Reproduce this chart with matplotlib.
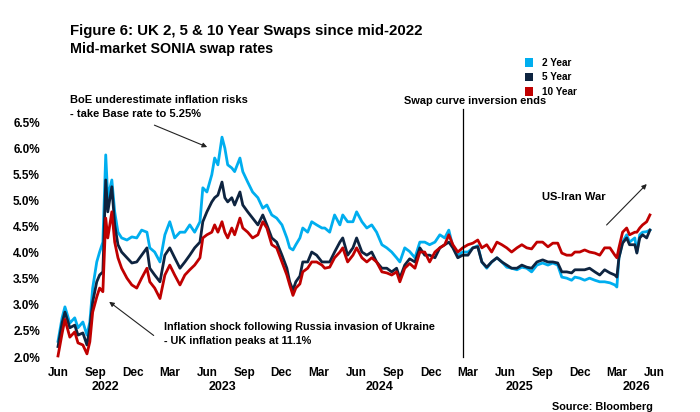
import numpy as np
import pandas as pd
import matplotlib
matplotlib.use("Agg")
import matplotlib.pyplot as plt
from matplotlib.patches import Patch
from matplotlib.ticker import FuncFormatter

plt.rcParams['font.family'] = ['Liberation Sans', 'DejaVu Sans']
plt.rcParams['font.weight'] = 'bold'

# sample dates (roughly every 1-2 weeks)
dates = [
    "2022-06-01", "2022-06-11", "2022-06-18", "2022-06-30", "2022-07-12", "2022-07-20", "2022-08-01", "2022-08-11", "2022-08-18", "2022-08-25",
    "2022-09-04", "2022-09-11", "2022-09-19", "2022-09-26", "2022-10-01", "2022-10-11", "2022-10-18", "2022-10-26", "2022-11-04", "2022-11-17",
    "2022-11-29", "2022-12-11", "2022-12-23", "2023-01-05", "2023-01-12", "2023-01-24", "2023-02-06", "2023-02-18", "2023-03-02", "2023-03-14",
    "2023-03-27", "2023-04-08", "2023-04-20", "2023-05-02", "2023-05-15", "2023-05-22", "2023-06-01", "2023-06-13", "2023-06-20", "2023-06-28",
    "2023-07-08", "2023-07-15", "2023-07-22", "2023-08-01", "2023-08-08", "2023-08-21", "2023-08-28", "2023-09-09", "2023-09-21", "2023-10-04",
    "2023-10-16", "2023-10-26", "2023-11-07", "2023-11-19", "2023-12-02", "2023-12-14", "2023-12-21", "2023-12-29", "2024-01-05", "2024-01-15",
    "2024-01-22", "2024-02-03", "2024-02-13", "2024-02-25", "2024-03-09", "2024-03-16", "2024-03-28", "2024-04-09", "2024-04-22", "2024-04-29",
    "2024-05-11", "2024-05-24", "2024-06-02", "2024-06-15", "2024-06-27", "2024-07-09", "2024-07-21", "2024-08-03", "2024-08-15", "2024-08-27",
    "2024-09-08", "2024-09-16", "2024-09-28", "2024-10-10", "2024-10-23", "2024-11-04", "2024-11-16", "2024-11-28", "2024-12-11", "2024-12-23",
    "2025-01-04", "2025-01-14", "2025-01-24", "2025-02-05", "2025-02-17", "2025-03-02", "2025-03-14", "2025-03-26", "2025-04-05", "2025-04-17",
    "2025-04-29", "2025-05-12", "2025-05-24", "2025-06-05", "2025-06-17", "2025-06-30", "2025-07-12", "2025-07-24", "2025-08-05", "2025-08-18",
    "2025-09-01", "2025-09-14", "2025-09-26", "2025-10-08", "2025-10-18", "2025-10-30", "2025-11-11", "2025-11-19", "2025-12-01", "2025-12-13",
    "2025-12-25", "2026-01-07", "2026-01-19", "2026-01-31", "2026-02-13", "2026-02-25", "2026-03-02", "2026-03-07", "2026-03-16", "2026-03-26",
    "2026-04-02", "2026-04-15", "2026-04-20", "2026-04-27", "2026-05-04", "2026-05-14", "2026-05-22",
]

swap_2y = [
    2.30, 2.75, 2.96, 2.65, 2.75, 2.56, 2.67, 2.42, 2.67, 3.32,
    3.82, 4.01, 4.20, 5.87, 5.05, 5.39, 4.78, 4.39, 4.28, 4.24,
    4.30, 4.28, 4.43, 4.39, 4.09, 4.01, 3.82, 4.34, 4.59, 4.28,
    4.39, 4.39, 4.53, 4.39, 4.59, 5.24, 5.16, 5.49, 5.81, 5.68,
    6.21, 6.00, 5.68, 5.62, 5.55, 5.81, 5.55, 5.35, 5.16, 5.05,
    4.85, 4.91, 4.72, 4.66, 4.53, 4.28, 4.09, 4.05, 4.15, 4.28,
    4.47, 4.39, 4.59, 4.53, 4.47, 4.47, 4.39, 4.72, 4.53, 4.72,
    4.59, 4.59, 4.78, 4.59, 4.47, 4.53, 4.39, 4.15, 4.09, 4.01,
    3.90, 3.82, 4.09, 4.02, 3.90, 4.20, 4.20, 4.15, 4.20, 4.34,
    4.28, 4.43, 4.11, 3.95, 4.01, 4.01, 4.09, 4.13, 3.82, 3.70,
    3.82, 3.90, 3.82, 3.72, 3.70, 3.67, 3.72, 3.70, 3.63, 3.76,
    3.80, 3.76, 3.80, 3.76, 3.53, 3.51, 3.47, 3.53, 3.51, 3.47,
    3.51, 3.47, 3.44, 3.44, 3.42, 3.38, 3.34, 3.90, 4.20, 4.34,
    4.20, 4.28, 4.01, 4.34, 4.39, 4.40, 4.43,
]

swap_5y = [
    2.20, 2.65, 2.86, 2.56, 2.61, 2.42, 2.46, 2.23, 2.56, 3.05,
    3.44, 3.57, 3.63, 5.39, 4.78, 5.26, 4.53, 4.15, 4.01, 3.90,
    3.80, 3.82, 3.95, 4.09, 3.70, 3.57, 3.44, 3.95, 4.09, 3.90,
    3.70, 3.82, 3.95, 4.09, 4.20, 4.59, 4.78, 4.97, 5.05, 5.10,
    5.35, 5.05, 4.97, 5.05, 4.91, 5.16, 4.91, 4.78, 4.66, 4.53,
    4.72, 4.53, 4.28, 4.20, 3.95, 3.70, 3.44, 3.28, 3.44, 3.55,
    3.82, 3.82, 4.01, 3.95, 3.82, 3.82, 3.82, 4.01, 4.20, 4.28,
    3.95, 4.09, 4.28, 4.01, 3.95, 4.01, 3.82, 3.70, 3.70, 3.63,
    3.70, 3.51, 3.76, 3.88, 3.82, 4.09, 3.95, 3.95, 3.90, 4.09,
    4.15, 4.20, 4.09, 3.90, 3.95, 3.95, 4.09, 4.11, 3.82, 3.72,
    3.82, 3.90, 3.82, 3.76, 3.70, 3.70, 3.76, 3.72, 3.70, 3.82,
    3.86, 3.82, 3.82, 3.80, 3.63, 3.63, 3.61, 3.67, 3.67, 3.67,
    3.70, 3.63, 3.57, 3.67, 3.61, 3.57, 3.53, 3.90, 4.18, 4.28,
    4.15, 4.15, 3.99, 4.28, 4.34, 4.28, 4.43,
]

swap_10y = [
    2.02, 2.45, 2.72, 2.38, 2.48, 2.27, 2.23, 2.06, 2.29, 2.86,
    3.15, 3.32, 3.25, 4.66, 4.28, 4.78, 4.20, 3.90, 3.70, 3.51,
    3.38, 3.32, 3.51, 3.70, 3.44, 3.32, 3.12, 3.57, 3.76, 3.57,
    3.38, 3.57, 3.67, 3.76, 3.90, 4.28, 4.34, 4.39, 4.53, 4.39,
    4.59, 4.39, 4.28, 4.47, 4.34, 4.66, 4.47, 4.39, 4.28, 4.34,
    4.59, 4.47, 4.15, 4.09, 3.82, 3.57, 3.38, 3.18, 3.32, 3.40,
    3.63, 3.70, 3.82, 3.82, 3.76, 3.70, 3.72, 3.90, 4.01, 4.09,
    3.82, 3.95, 4.09, 3.90, 3.82, 3.90, 3.82, 3.63, 3.61, 3.57,
    3.63, 3.44, 3.70, 3.79, 3.70, 4.01, 4.01, 3.82, 4.01, 4.09,
    4.15, 4.34, 4.15, 4.01, 4.09, 4.15, 4.18, 4.24, 4.09, 4.15,
    4.01, 4.20, 4.15, 4.09, 4.01, 4.09, 4.15, 4.09, 4.07, 4.20,
    4.20, 4.11, 4.18, 4.18, 3.99, 3.95, 3.95, 4.01, 4.01, 4.05,
    4.01, 3.99, 3.95, 4.09, 4.09, 3.95, 3.90, 4.09, 4.39, 4.47,
    4.34, 4.39, 4.39, 4.47, 4.53, 4.59, 4.72,
]

series_names = ["2 Year", "5 Year", "10 Year"]
series_colors = ["#00AEEF", "#0E2440", "#C00000"]

year_labels = ["2022", "2023", "2024", "2025", "2026"]
year_label_dates = ["2022-09-26", "2023-07-10", "2024-07-29", "2025-07-07", "2026-04-20"]

inversion_end = "2025-02-17"

fig = plt.figure(figsize=(7, 4.12), dpi=100)
ax = fig.add_axes([58 / 700, 55 / 412, 596 / 700, 235 / 412])

x = pd.to_datetime(dates)
for vals, name, col in zip([swap_2y, swap_5y, swap_10y], series_names, series_colors):
    ax.plot(x, vals, color=col, lw=2.0, label=name, clip_on=False)

ax.set_xlim(pd.Timestamp("2022-06-01"), pd.Timestamp("2026-06-01"))
ax.set_ylim(2.0, 6.5)
ax.set_yticks(np.arange(2.0, 6.51, 0.5))
ax.yaxis.set_major_formatter(FuncFormatter(lambda v, p: f"{v:.1f}%"))

tick_dates = pd.date_range("2022-06-01", "2026-06-01", freq="3MS")
ax.set_xticks(tick_dates)
ax.set_xticklabels([d.strftime("%b") for d in tick_dates])
ax.tick_params(length=0, labelsize=8.5, colors="black")
ax.tick_params(axis="y", pad=13)
ax.tick_params(axis="x", pad=7.5)
for s in ax.spines.values():
    s.set_visible(False)

for lbl, d in zip(year_labels, year_label_dates):
    ax.text(pd.Timestamp(d), -0.128, lbl, transform=ax.get_xaxis_transform(),
            ha="center", va="center", fontsize=9, fontweight="bold")

# vertical marker for end of curve inversion
ax.axvline(pd.Timestamp(inversion_end), ymin=0, ymax=1.056, color="black", lw=0.9, clip_on=False)

# annotations
arrow = dict(arrowstyle="-|>", color="#222222", lw=0.8, mutation_scale=7)
ax.annotate("", xy=(pd.Timestamp("2023-06-08"), 6.00), xytext=(pd.Timestamp("2023-01-17"), 6.46),
            arrowprops=arrow, annotation_clip=False)
ax.annotate("", xy=(pd.Timestamp("2022-09-29"), 3.09), xytext=(pd.Timestamp("2023-01-27"), 2.38),
            arrowprops=arrow, annotation_clip=False)
ax.annotate("", xy=(pd.Timestamp("2026-05-19"), 5.35), xytext=(pd.Timestamp("2026-01-31"), 4.49),
            arrowprops=arrow, annotation_clip=False)

fig.text(70 / 700, 1 - 107 / 412, "BoE underestimate inflation risks\n- take Base rate to 5.25%",
         fontsize=8, fontweight="bold", va="center", ha="left", linespacing=1.5)
fig.text(164 / 700, 1 - 334 / 412, "Inflation shock following Russia invasion of Ukraine\n- UK inflation peaks at 11.1%",
         fontsize=7.8, fontweight="bold", va="center", ha="left", linespacing=1.6)
fig.text(404 / 700, 1 - 101 / 412, "Swap curve inversion ends",
         fontsize=7.9, fontweight="bold", va="center", ha="left")
fig.text(542 / 700, 1 - 197 / 412, "US-Iran War",
         fontsize=8, fontweight="bold", va="center", ha="left")

# titles
fig.text(70 / 700, 1 - 31 / 412, "Figure 6: UK 2, 5 & 10 Year Swaps since mid-2022",
         fontsize=10.8, fontweight="bold", va="center", ha="left")
fig.text(70 / 700, 1 - 49 / 412, "Mid-market SONIA swap rates",
         fontsize=10.3, fontweight="bold", va="center", ha="left")
fig.text(653 / 700, 1 - 407 / 412, "Source: Bloomberg",
         fontsize=7.8, fontweight="bold", va="center", ha="right")

handles = [Patch(facecolor=c, edgecolor="none") for c in series_colors]
fig.legend(handles, series_names, loc="upper left", bbox_to_anchor=(525 / 700, 1 - 58 / 412),
           frameon=False, fontsize=7.2, handlelength=0.75, handleheight=0.9, handletextpad=1.0,
           labelspacing=0.45, borderaxespad=0, borderpad=0)

fig.savefig("out.png", dpi=100)
